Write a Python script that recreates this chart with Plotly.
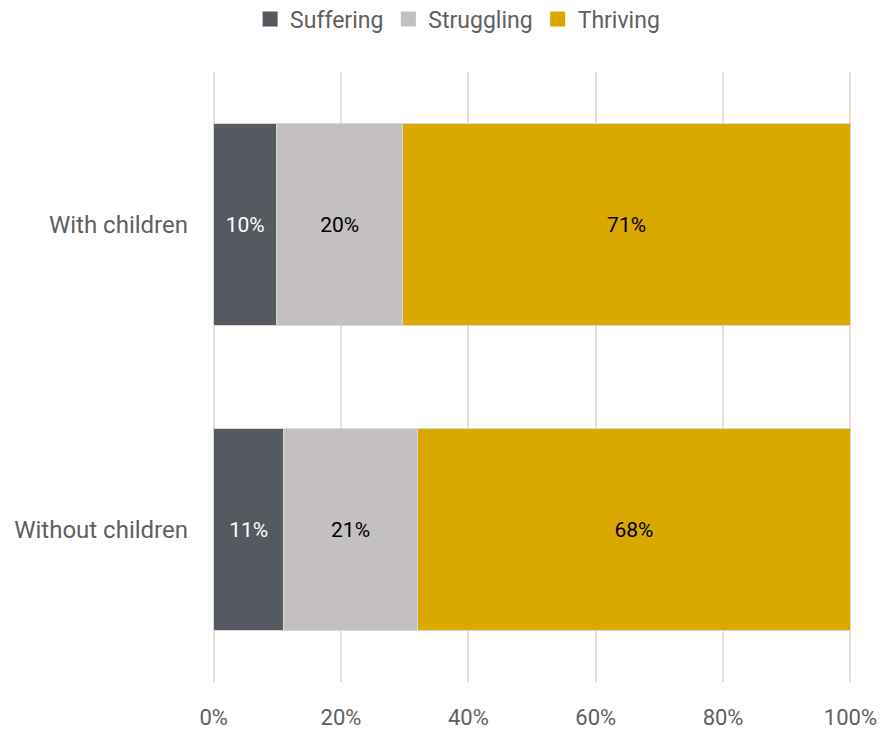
import plotly.graph_objects as go

groups = ["With children", "Without children"]
series = ["Suffering", "Struggling", "Thriving"]
values = {
    "Suffering": [10, 11],
    "Struggling": [20, 21],
    "Thriving": [71, 68],
}
colors = {"Suffering": "#555a61", "Struggling": "#c4c0c1", "Thriving": "#d9a900"}
text_colors = {"Suffering": "#ffffff", "Struggling": "#000000", "Thriving": "#000000"}
tick_vals = [0, 20, 40, 60, 80, 100]
tick_text = ["0%", "20%", "40%", "60%", "80%", "100%"]

FONT = "Roboto, Inter, sans-serif"
GREY_TEXT = "#5f5f5f"
GRID = "#e8dfd0"

fig = go.Figure()
for s in series:
    fig.add_trace(go.Bar(
        name=s,
        y=groups,
        x=values[s],
        orientation="h",
        marker=dict(color=colors[s], line=dict(color="#d8d8d8", width=1)),
        text=[f"{v}%" for v in values[s]],
        textposition="inside",
        insidetextanchor="middle",
        textangle=0,
        textfont=dict(color=text_colors[s], size=21, family=FONT),
        hoverinfo="skip",
        showlegend=False,
    ))

# legend entries drawn as larger square swatches
for s in series:
    fig.add_trace(go.Scatter(
        name=s,
        x=[None], y=[None],
        mode="markers",
        marker=dict(symbol="square", size=15, color=colors[s]),
        showlegend=True,
        hoverinfo="skip",
    ))

fig.update_layout(
    barmode="stack",
    barnorm="percent",
    bargap=0.335,
    width=880,
    height=731,
    margin=dict(l=213, r=28, t=72, b=49),
    paper_bgcolor="white",
    plot_bgcolor="white",
    font=dict(family=FONT, color=GREY_TEXT, size=22),
    legend=dict(
        orientation="h",
        x=0.52, xanchor="center", xref="container",
        y=0.974, yref="container", yanchor="middle",
        font=dict(size=23, color=GREY_TEXT),
        itemwidth=30,
        traceorder="normal",
    ),
    showlegend=True,
)
fig.update_xaxes(
    range=[-0.1, 100.25],
    tickvals=tick_vals,
    ticktext=tick_text,
    showgrid=True,
    gridcolor=GRID,
    gridwidth=2,
    zeroline=True,
    zerolinecolor=GRID,
    zerolinewidth=2,
    showline=False,
    automargin=False,
    ticklabelstandoff=20,
    tickfont=dict(size=22, color=GREY_TEXT),
)
fig.update_yaxes(
    categoryorder="array",
    categoryarray=groups[::-1],
    showgrid=False,
    showline=False,
    ticks="",
    automargin=False,
    ticklabelstandoff=24,
    tickfont=dict(size=24, color=GREY_TEXT),
)

fig.write_html("out.html")
